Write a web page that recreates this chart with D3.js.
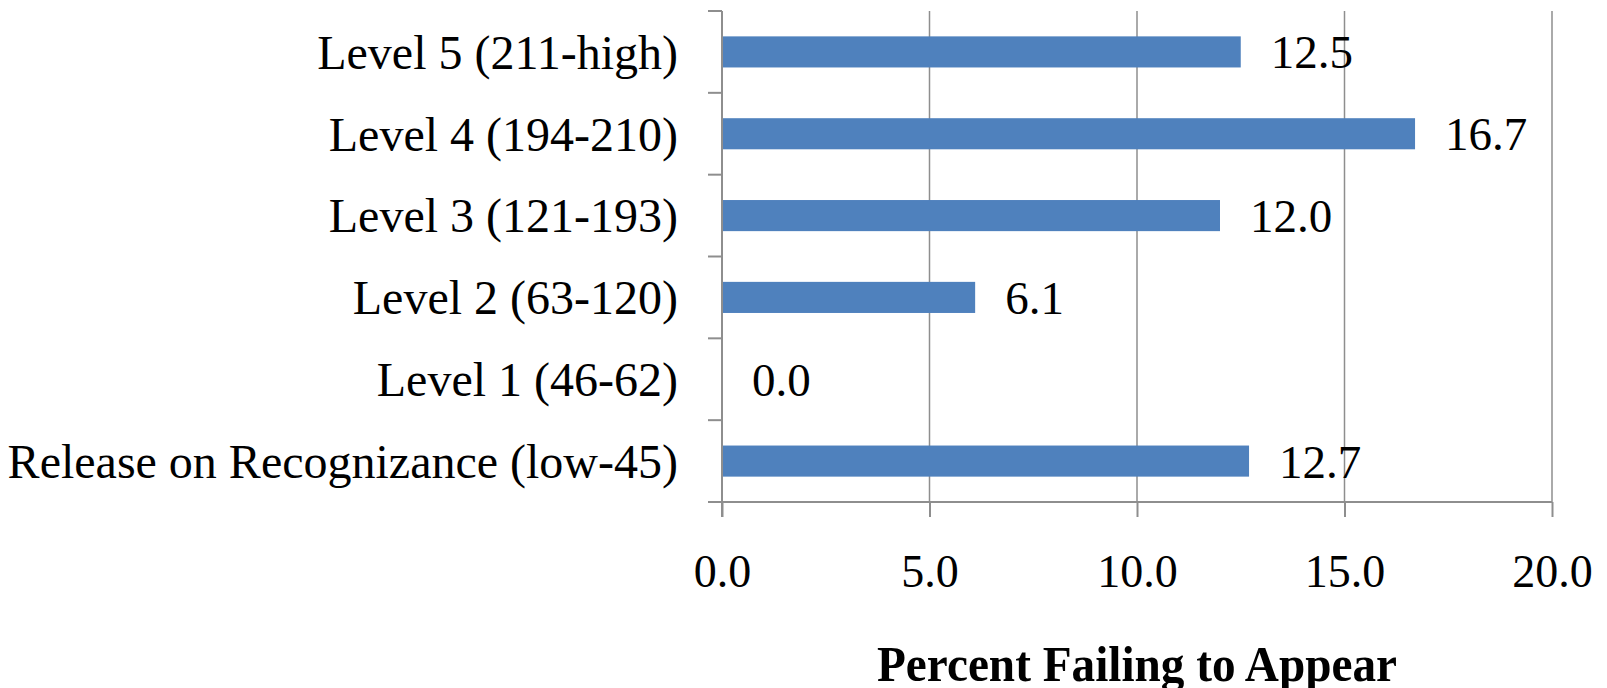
<!DOCTYPE html>
<html>
<head>
<meta charset="utf-8">
<script src="https://cdn.jsdelivr.net/npm/d3@7"></script>
<style>
  html, body { margin: 0; padding: 0; background: #fff; }
  svg { display: block; }
  text { font-family: "Liberation Serif", "Times New Roman", serif; fill: #000; }
</style>
</head>
<body>
<svg id="chart" width="1607" height="688"></svg>
<script>
// Failure-to-appear rate by risk level
const categories = [
  "Level 5 (211-high)",
  "Level 4 (194-210)",
  "Level 3 (121-193)",
  "Level 2 (63-120)",
  "Level 1 (46-62)",
  "Release on Recognizance (low-45)"
];
const values = [12.5, 16.7, 12.0, 6.1, 0.0, 12.7];
const xTicks = [0, 5, 10, 15, 20];
const axisTitle = "Percent Failing to Appear";

const margin = { top: 11, left: 722, right: 55, bottom: 186 };
const W = 1607, H = 688;
const innerW = W - margin.left - margin.right;   // 830
const innerH = H - margin.top - margin.bottom;   // 491

const svg = d3.select("#chart");
const g = svg.append("g").attr("transform", `translate(${margin.left},${margin.top})`);

const x = d3.scaleLinear().domain([0, 20]).range([0, innerW]);
const y = d3.scaleBand().domain(categories).range([0, innerH]).paddingInner(0.62).paddingOuter(0.31);

const gridColor = "#8e8e8e";

// vertical gridlines
g.append("g")
  .selectAll("line")
  .data(xTicks.filter(d => d > 0))
  .join("line")
  .attr("x1", d => x(d)).attr("x2", d => x(d))
  .attr("y1", 0).attr("y2", innerH)
  .attr("stroke", gridColor).attr("stroke-width", 1.5);

// bars
g.append("g")
  .selectAll("rect")
  .data(values)
  .join("rect")
  .attr("x", x(0))
  .attr("y", (d, i) => y(categories[i]))
  .attr("width", d => x(d) - x(0))
  .attr("height", y.bandwidth())
  .attr("fill", "#4f81bd");

// value labels
g.append("g")
  .selectAll("text")
  .data(values)
  .join("text")
  .attr("x", d => x(d) + 30)
  .attr("y", (d, i) => y(categories[i]) + y.bandwidth() / 2)
  .attr("dy", "0.35em")
  .style("font-size", "47px")
  .text(d => d3.format(".1f")(d));

// bottom axis
const xAxis = g.append("g")
  .attr("transform", `translate(0,${innerH})`)
  .call(d3.axisBottom(x).tickValues(xTicks).tickFormat(d3.format(".1f")).tickSizeInner(15).tickSizeOuter(0));
xAxis.select(".domain").attr("stroke", gridColor).attr("stroke-width", 2)
  .attr("d", `M-14,0H${innerW}`);
xAxis.selectAll(".tick line").attr("stroke", gridColor).attr("stroke-width", 2);
xAxis.selectAll(".tick text")
  .attr("y", 85).attr("dy", 0)
  .style("font-size", "46px")
  .style("font-family", "Liberation Serif, serif")
  .attr("fill", "#000");

// left axis: category labels
const yAxis = g.append("g")
  .call(d3.axisLeft(y).tickSize(0).tickPadding(44));
yAxis.select(".domain").remove();
yAxis.selectAll(".tick text")
  .style("font-size", "48px")
  .style("font-family", "Liberation Serif, serif")
  .attr("fill", "#000")
  .attr("dy", "0.35em");

// left axis line with ticks at category boundaries
const step = y.step();
const bounds = d3.range(categories.length + 1).map(i => i === 0 ? 0 : (i === categories.length ? innerH : y(categories[i]) - (step - y.bandwidth()) / 2));
g.append("line")
  .attr("x1", 0).attr("x2", 0).attr("y1", 0).attr("y2", innerH + 15)
  .attr("stroke", gridColor).attr("stroke-width", 2);
g.append("g")
  .selectAll("line")
  .data(bounds)
  .join("line")
  .attr("x1", -14).attr("x2", 0)
  .attr("y1", d => d).attr("y2", d => d)
  .attr("stroke", gridColor).attr("stroke-width", 2);

// axis title (condensed bold), centred under the plot
svg.append("text")
  .attr("x", margin.left + innerW / 2).attr("y", 681)
  .attr("text-anchor", "middle")
  .style("font-size", "50px")
  .style("font-weight", "bold")
  .attr("textLength", 520)
  .attr("lengthAdjust", "spacingAndGlyphs")
  .text(axisTitle);
</script>
</body>
</html>
